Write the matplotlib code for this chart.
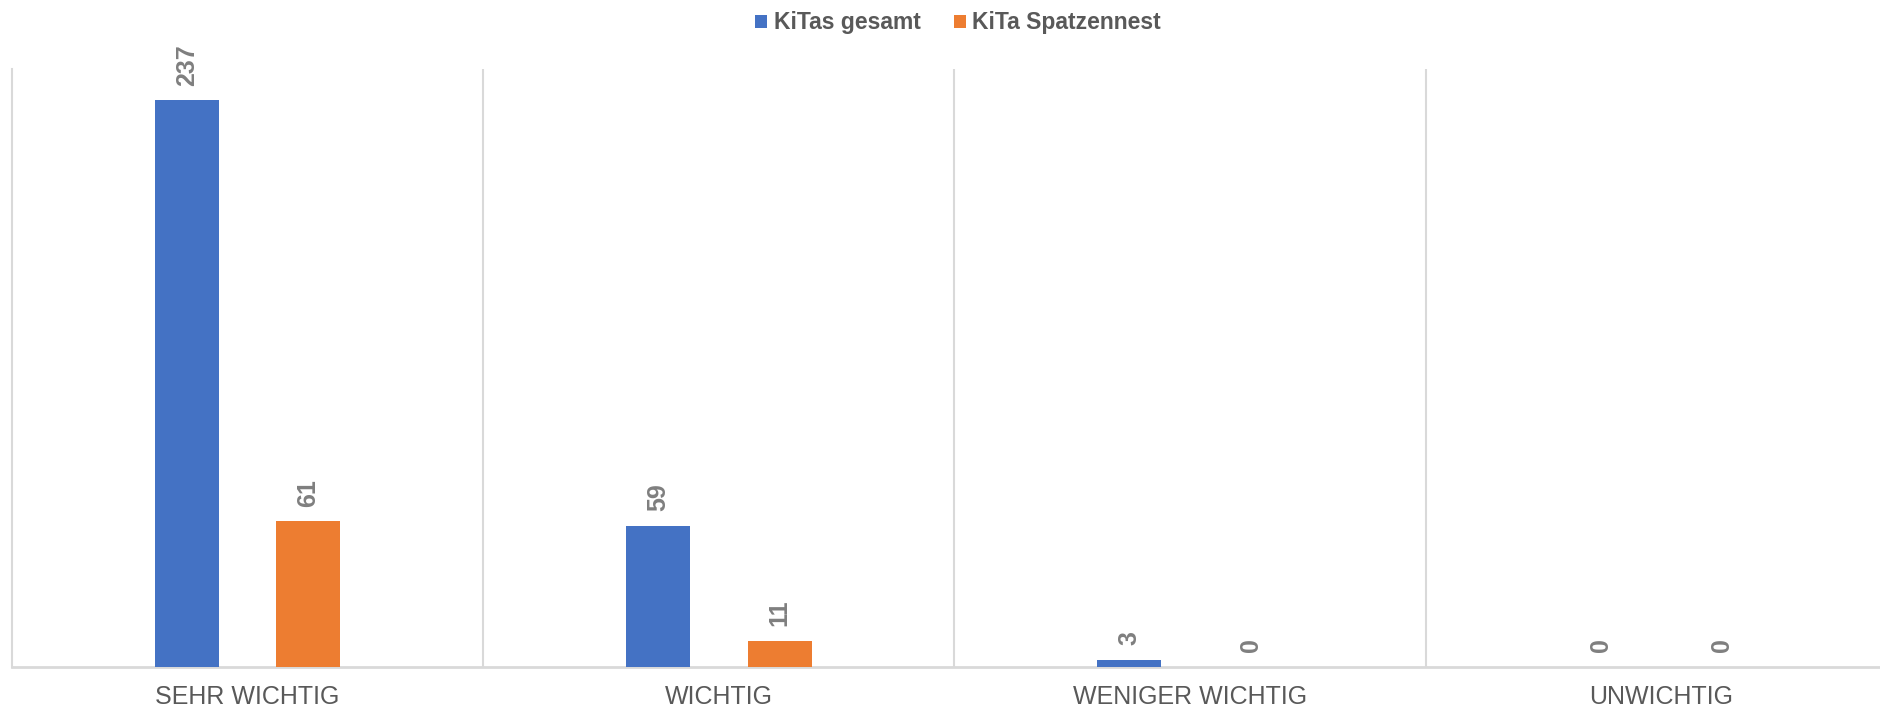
import numpy as np
import matplotlib.pyplot as plt

plt.rcParams['font.family'] = ['Liberation Sans', 'DejaVu Sans']

categories = ['SEHR WICHTIG', 'WICHTIG', 'WENIGER WICHTIG', 'UNWICHTIG']
kitas_gesamt = [237, 59, 3, 0]
kita_spatzennest = [61, 11, 0, 0]
series_names = ['KiTas gesamt', 'KiTa Spatzennest']

blue = '#4472C4'
orange = '#ED7D31'
grid_col = '#D9D9D9'
text_col = '#595959'
label_col = '#7F7F7F'

fig = plt.figure(figsize=(18.8, 7.07), dpi=100)
# the plot area runs a bit past the right edge of the picture, as in the original
ax = fig.add_axes([12 / 1880, 40 / 707, 1885 / 1880, 598 / 707])

x = np.arange(len(categories))
w = 0.136
off = 0.129
b1 = ax.bar(x - off, kitas_gesamt, w, color=blue, label=series_names[0], zorder=3)
b2 = ax.bar(x + off, kita_spatzennest, w, color=orange, label=series_names[1], zorder=3)

for bars, vals in [(b1, kitas_gesamt), (b2, kita_spatzennest)]:
    for rect, v in zip(bars, vals):
        ax.annotate(str(v), (rect.get_x() + rect.get_width() / 2, v),
                    xytext=(0, 10.5), textcoords='offset points',
                    rotation=90, ha='center', va='bottom',
                    fontsize=18, fontweight='bold', color=label_col)

ax.set_xlim(-0.5, 3.5)
ax.set_ylim(0, 250)
ax.set_yticks([])
ax.set_xticks(x)
ax.set_xticklabels(categories, fontsize=18, color=text_col)
ax.tick_params(axis='x', length=0, pad=13)
ax.set_xticks([0.5, 1.5, 2.5], minor=True)
ax.tick_params(axis='x', which='minor', length=0)
ax.grid(axis='x', which='minor', color=grid_col, linewidth=1.5, zorder=0)

for s in ['top', 'right']:
    ax.spines[s].set_visible(False)
ax.spines['left'].set_color(grid_col)
ax.spines['left'].set_linewidth(1.5)
ax.spines['bottom'].set_color(grid_col)
ax.spines['bottom'].set_linewidth(2)

leg = fig.legend(handles=[b1, b2], loc='center', bbox_to_anchor=(958 / 1880, 1 - 23 / 707),
                 ncol=2, frameon=False, fontsize=16.5,
                 handlelength=0.52, handleheight=0.52, handletextpad=0.3,
                 columnspacing=1.45, borderpad=0)
for t in leg.get_texts():
    t.set_color(text_col)
    t.set_fontweight('bold')

fig.savefig('out.png', dpi=100)
